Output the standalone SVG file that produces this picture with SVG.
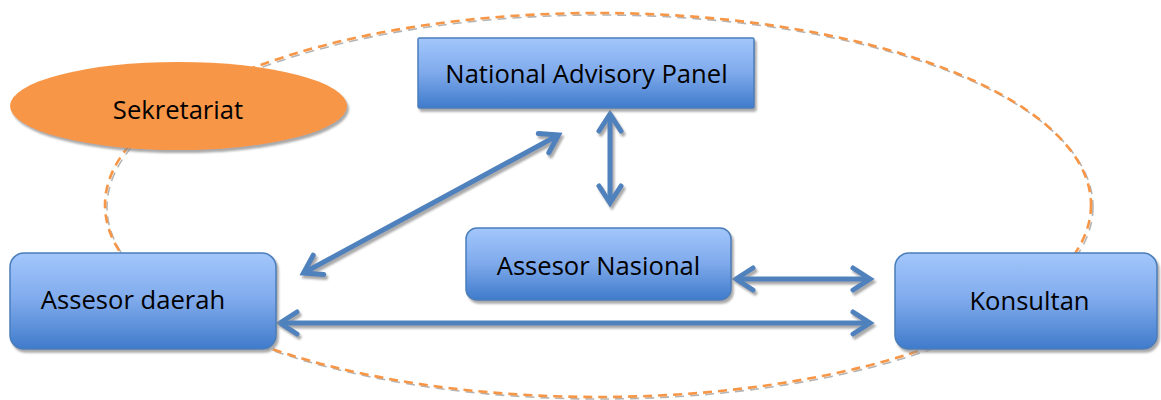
<svg xmlns="http://www.w3.org/2000/svg" width="1161" height="400" viewBox="0 0 1161 400">
  <defs>
    <linearGradient id="boxFill" x1="0" y1="0" x2="0" y2="1">
      <stop offset="0" stop-color="#A3C7FC"/>
      <stop offset="0.5" stop-color="#7EA9EB"/>
      <stop offset="1" stop-color="#3F7BCB"/>
    </linearGradient>
    <filter id="shadow" x="-10%" y="-10%" width="125%" height="130%">
      <feDropShadow dx="2" dy="3" stdDeviation="0.8" flood-color="#8C8C8C" flood-opacity="0.75"/>
    </filter>
    <marker id="chevron" markerUnits="userSpaceOnUse" viewBox="-30 -20 40 40" refX="0" refY="0"
            markerWidth="40" markerHeight="40" orient="auto-start-reverse" overflow="visible">
      <path d="M-17,-11 L0,0 L-17,11" fill="none" stroke="#4F81BD" stroke-width="5"
            stroke-linejoin="miter" stroke-linecap="round"/>
    </marker>
  </defs>
  <style>
    .ring { fill: none; stroke: #F79646; stroke-width: 2.6; stroke-dasharray: 9 6; }
    .ring-shadow { fill: none; stroke: #B4B4B4; stroke-width: 1.6; stroke-dasharray: 9 6; }
    .box { fill: url(#boxFill); stroke: #4A7EBB; stroke-width: 1.5; filter: url(#shadow); }
    .oval { fill: #F79646; filter: url(#shadow); }
    .label { font-family: "Open Sans", "Liberation Sans", sans-serif; font-size: 25.6px; fill: #000; }
    .link { stroke: #4F81BD; stroke-width: 5; fill: none;
            marker-start: url(#chevron); marker-end: url(#chevron); }
  </style>

  <!-- dashed boundary ring around all roles -->
  <g id="boundary">
    <ellipse class="ring-shadow" cx="600" cy="207" rx="493" ry="192"/>
    <ellipse class="ring" cx="598" cy="205" rx="493" ry="192"/>
  </g>

  <!-- connectors -->
  <g id="connectors" filter="url(#shadow)">
    <path class="link" d="M610,114 L610,203"/>
    <path class="link" d="M303.5,273 L558.5,135"/>
    <path class="link" d="M736,279 L870,279"/>
    <path class="link" d="M280,323 L870,323"/>
  </g>

  <g id="sekretariat">
    <ellipse class="oval" cx="178.5" cy="106" rx="168.5" ry="44"/>
    <text class="label" x="178" y="119" text-anchor="middle">Sekretariat</text>
  </g>

  <g id="national-advisory-panel">
    <rect class="box" x="418" y="38" width="336" height="70" rx="1.5"/>
    <text class="label" x="586.5" y="83" text-anchor="middle">National Advisory Panel</text>
  </g>

  <g id="assesor-nasional">
    <rect class="box" x="466" y="228" width="265" height="72" rx="11"/>
    <text class="label" x="598.5" y="275" text-anchor="middle">Assesor Nasional</text>
  </g>

  <g id="assesor-daerah">
    <rect class="box" x="10" y="253" width="266" height="96" rx="14"/>
    <text class="label" x="133" y="309" text-anchor="middle">Assesor daerah</text>
  </g>

  <g id="konsultan">
    <rect class="box" x="895" y="253" width="262" height="96" rx="14"/>
    <text class="label" x="1029.5" y="310" text-anchor="middle">Konsultan</text>
  </g>
</svg>
